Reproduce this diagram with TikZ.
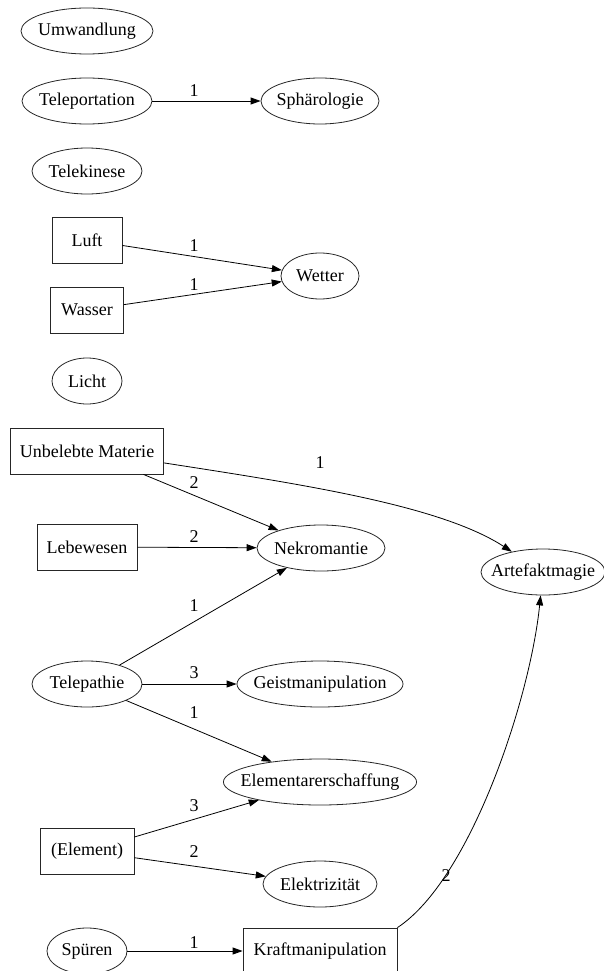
\documentclass[tikz,border=0pt]{standalone}
\usepackage{fontspec}
\setmainfont{Liberation Serif}
\usetikzlibrary{shapes.geometric,arrows.meta}
\begin{document}
\begin{tikzpicture}[x=1pt,y=-1pt,
 every node/.style={font=\fontsize{18}{21}\selectfont},
 ell/.style={draw=black!85, line width=0.8pt, ellipse, inner xsep=-11pt, inner ysep=0pt, minimum height=46pt},
 box/.style={draw=black!85, line width=0.8pt, rectangle, inner sep=0pt, minimum height=46pt},
 arr/.style={line width=0.8pt, -{Triangle[length=10pt,width=7pt]}},
 lbl/.style={inner sep=0pt}]
\useasboundingbox (0,0) rectangle (603,971);
\node[ell, minimum width=132pt] (umw) at (87,31) {Umwandlung};
\node[ell, minimum width=130pt] (tel) at (87,101) {Teleportation};
\node[ell, minimum width=118pt] (sph) at (320,101) {Sphärologie};
\node[ell, minimum width=110pt] (tki) at (87,171) {Telekinese};
\node[box, minimum width=70pt] (luft) at (87,240) {Luft};
\node[box, minimum width=73pt] (was) at (87,310) {Wasser};
\node[ell, minimum width=78pt] (wet) at (320,276) {Wetter};
\node[ell, minimum width=70pt] (lic) at (87,381) {Licht};
\node[box, minimum width=153pt] (unb) at (87,451) {Unbelebte Materie};
\node[box, minimum width=100pt] (leb) at (87,547) {Lebewesen};
\node[ell, minimum width=128pt] (nek) at (321,548) {Nekromantie};
\node[ell, minimum width=124pt] (art) at (543,572) {Artefaktmagie};
\node[ell, minimum width=110pt] (tpa) at (87,684) {Telepathie};
\node[ell, minimum width=166pt] (gei) at (320,684) {Geistmanipulation};
\node[ell, minimum width=192pt] (ele) at (320,782) {Elementarerschaffung};
\node[box, minimum width=94pt] (elm) at (87,851) {(Element)};
\node[ell, minimum width=114pt] (ekt) at (320,884) {Elektrizität};
\node[ell, minimum width=80pt] (spu) at (87,951) {Spüren};
\node[box, minimum width=154pt] (kra) at (320,951) {Kraftmanipulation};

\draw[arr] (tel) -- (sph);
\draw[arr] (luft) -- (wet);
\draw[arr] (was) -- (wet);
\draw[arr] (unb) -- (nek);
\draw[arr] (unb) .. controls (300,484) and (440,505) .. (art);
\draw[arr] (leb) -- (nek);
\draw[arr] (tpa) -- (nek);
\draw[arr] (tpa) -- (gei);
\draw[arr] (tpa) -- (ele);
\draw[arr] (elm) -- (ele);
\draw[arr] (elm) -- (ekt);
\draw[arr] (spu) -- (kra);
\draw[arr] (kra.north east) .. controls (470,880) and (530,700) .. (art);

\node[lbl] (l1) at (194,91) {1};
\node[lbl] (l2) at (194,246) {1};
\node[lbl] (l3) at (194,285) {1};
\node[lbl] (l4) at (194,483) {2};
\node[lbl] (l5) at (320,463) {1};
\node[lbl] (l6) at (194,537) {2};
\node[lbl] (l7) at (194,606) {1};
\node[lbl] (l8) at (194,673) {3};
\node[lbl] (l9) at (194,713) {1};
\node[lbl] (l10) at (194,806) {3};
\node[lbl] (l11) at (194,852) {2};
\node[lbl] (l12) at (194,943) {1};
\node[lbl] (l13) at (446,876) {2};
\end{tikzpicture}
\end{document}
